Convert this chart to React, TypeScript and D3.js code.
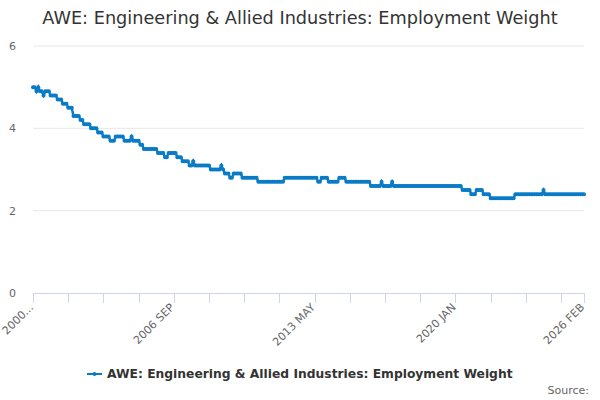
import * as d3 from "d3";

// monthly values, one row per year, 2000 JAN .. 2026 FEB
const values = [
  5.0, 5.0, 4.9, 5.0, 4.9, 4.9, 4.8, 4.9, 4.9, 4.9, 4.8, 4.8, // 2000
  4.8, 4.8, 4.7, 4.7, 4.7, 4.6, 4.6, 4.6, 4.5, 4.5, 4.5, 4.3, // 2001
  4.3, 4.3, 4.3, 4.2, 4.2, 4.1, 4.1, 4.1, 4.1, 4.0, 4.0, 4.0, // 2002
  4.0, 3.9, 3.9, 3.9, 3.8, 3.8, 3.8, 3.8, 3.7, 3.7, 3.7, 3.8, // 2003
  3.8, 3.8, 3.8, 3.8, 3.7, 3.7, 3.7, 3.7, 3.8, 3.7, 3.7, 3.7, // 2004
  3.7, 3.6, 3.6, 3.5, 3.5, 3.5, 3.5, 3.5, 3.5, 3.5, 3.5, 3.4, // 2005
  3.4, 3.4, 3.4, 3.3, 3.3, 3.4, 3.4, 3.4, 3.4, 3.4, 3.3, 3.3, // 2006
  3.3, 3.2, 3.2, 3.2, 3.2, 3.1, 3.1, 3.2, 3.1, 3.1, 3.1, 3.1, // 2007
  3.1, 3.1, 3.1, 3.1, 3.1, 3.0, 3.0, 3.0, 3.0, 3.0, 3.0, 3.1, // 2008
  3.0, 2.9, 2.9, 2.9, 2.8, 2.8, 2.9, 2.9, 2.9, 2.9, 2.9, 2.8, // 2009
  2.8, 2.8, 2.8, 2.8, 2.8, 2.8, 2.8, 2.8, 2.7, 2.7, 2.7, 2.7, // 2010
  2.7, 2.7, 2.7, 2.7, 2.7, 2.7, 2.7, 2.7, 2.7, 2.7, 2.7, 2.8, // 2011
  2.8, 2.8, 2.8, 2.8, 2.8, 2.8, 2.8, 2.8, 2.8, 2.8, 2.8, 2.8, // 2012
  2.8, 2.8, 2.8, 2.8, 2.8, 2.8, 2.7, 2.7, 2.8, 2.8, 2.8, 2.8, // 2013
  2.7, 2.7, 2.7, 2.7, 2.7, 2.7, 2.8, 2.8, 2.8, 2.8, 2.7, 2.7, // 2014
  2.7, 2.7, 2.7, 2.7, 2.7, 2.7, 2.7, 2.7, 2.7, 2.7, 2.7, 2.7, // 2015
  2.6, 2.6, 2.6, 2.6, 2.6, 2.6, 2.7, 2.6, 2.6, 2.6, 2.6, 2.6, // 2016
  2.7, 2.6, 2.6, 2.6, 2.6, 2.6, 2.6, 2.6, 2.6, 2.6, 2.6, 2.6, // 2017
  2.6, 2.6, 2.6, 2.6, 2.6, 2.6, 2.6, 2.6, 2.6, 2.6, 2.6, 2.6, // 2018
  2.6, 2.6, 2.6, 2.6, 2.6, 2.6, 2.6, 2.6, 2.6, 2.6, 2.6, 2.6, // 2019
  2.6, 2.6, 2.6, 2.6, 2.5, 2.5, 2.5, 2.5, 2.5, 2.4, 2.4, 2.4, // 2020
  2.5, 2.5, 2.5, 2.5, 2.4, 2.4, 2.4, 2.4, 2.3, 2.3, 2.3, 2.3, // 2021
  2.3, 2.3, 2.3, 2.3, 2.3, 2.3, 2.3, 2.3, 2.3, 2.3, 2.4, 2.4, // 2022
  2.4, 2.4, 2.4, 2.4, 2.4, 2.4, 2.4, 2.4, 2.4, 2.4, 2.4, 2.4, // 2023
  2.4, 2.4, 2.5, 2.4, 2.4, 2.4, 2.4, 2.4, 2.4, 2.4, 2.4, 2.4, // 2024
  2.4, 2.4, 2.4, 2.4, 2.4, 2.4, 2.4, 2.4, 2.4, 2.4, 2.4, 2.4, // 2025
  2.4, 2.4, // 2026
];

const monthNames = ["JAN", "FEB", "MAR", "APR", "MAY", "JUN", "JUL", "AUG", "SEP", "OCT", "NOV", "DEC"];
const startYear = 2000;
const labels = values.map((_, i) => `${startYear + Math.floor(i / 12)} ${monthNames[i % 12]}`);

const yTicks = [0, 2, 4, 6];
const tickEvery = 20;
const labelEvery = 80;

const title = "AWE: Engineering & Allied Industries: Employment Weight";
const seriesName = "AWE: Engineering & Allied Industries: Employment Weight";
const color = "#0a7bc6";
const font = "'DejaVu Sans', Verdana, sans-serif";

export default function App() {
  const left = 33;
  const right = 584;
  const top = 46;
  const bottom = 293;

  const x = d3.scaleLinear().domain([0, values.length - 1]).range([left, right]);
  const y = d3.scaleLinear().domain([0, 6]).range([bottom, top]);

  const line = d3
    .line<number>()
    .x((_, i) => x(i))
    .y((d) => y(d));

  const ticks = d3.range(0, values.length, tickEvery).concat([values.length - 1]);
  const labelTicks = d3.range(0, values.length, labelEvery).concat([values.length - 1]);

  return (
    <svg
      width={600}
      height={400}
      style={{ position: "absolute", left: 0, top: 0, fontFamily: font }}
    >
      <rect width={600} height={400} fill="white" />
      <text x={300} y={24} fontSize="17.7" fill="#333" textAnchor="middle">
        {title}
      </text>

      {yTicks.map((t) => (
        <g key={t}>
          {t > 0 && (
            <line x1={left} x2={right} y1={y(t)} y2={y(t)} stroke="#e6e6e6" />
          )}
          <text x={16} y={y(t) + 4} fontSize="11" fill="#666" textAnchor="end">
            {t}
          </text>
        </g>
      ))}

      <line x1={left} x2={right} y1={bottom + 0.5} y2={bottom + 0.5} stroke="#ccd6eb" />
      {ticks.map((t) => (
        <line
          key={t}
          x1={Math.round(x(t)) + 0.5}
          x2={Math.round(x(t)) + 0.5}
          y1={bottom}
          y2={bottom + 10}
          stroke="#ccd6eb"
        />
      ))}
      {labelTicks.map((t) => (
        <text
          key={t}
          transform={`translate(${x(t) + 1},${bottom + 15}) rotate(-45)`}
          fontSize="11"
          fill="#666"
          textAnchor="end"
        >
          {t === 0 ? labels[t].slice(0, 4) + "..." : labels[t]}
        </text>
      ))}

      <path d={line(values) ?? ""} fill="none" stroke={color} strokeWidth={2.5} />
      {values.map((v, i) => (
        <circle key={i} cx={x(i)} cy={y(v)} r={2} fill={color} />
      ))}

      <line x1={87} x2={102} y1={374} y2={374} stroke={color} strokeWidth={2} />
      <circle cx={94.5} cy={374} r={2} fill={color} />
      <text x={107} y={378} fontSize="12.3" fontWeight="bold" fill="#333">
        {seriesName}
      </text>

      <text x={589} y={394} fontSize="11" fill="#666" textAnchor="end">
        Source:
      </text>
    </svg>
  );
}
